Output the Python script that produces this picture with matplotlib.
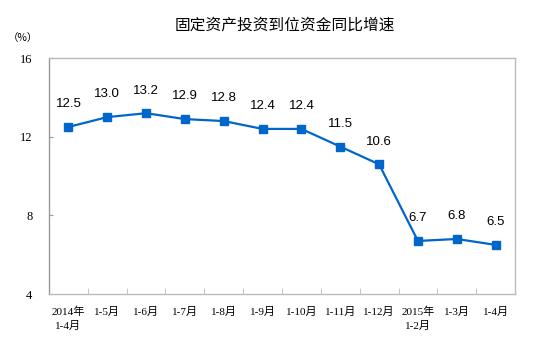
import matplotlib
matplotlib.use('Agg')
import matplotlib.pyplot as plt

# 固定资产投资到位资金同比增速
periods = ['2014年\n1-4月', '1-5月', '1-6月', '1-7月', '1-8月', '1-9月', '1-10月',
           '1-11月', '1-12月', '2015年\n1-2月', '1-3月', '1-4月']
growth = [12.5, 13.0, 13.2, 12.9, 12.8, 12.4, 12.4, 11.5, 10.6, 6.7, 6.8, 6.5]
y_ticks = [4, 8, 12, 16]

line_color = '#0066CC'
tick_font = ['Liberation Serif', 'Noto Sans CJK SC']

fig = plt.figure(figsize=(5.53, 3.59), dpi=100)
ax = fig.add_axes([0.0886, 0.181, 0.8427, 0.657])

x = list(range(len(periods)))
ax.plot(x, growth, color=line_color, linewidth=1.6, marker='s', markersize=6,
        markerfacecolor=line_color, markeredgecolor=line_color)

for xi, v in zip(x, growth):
    ax.annotate(f'{v:.1f}', (xi, v), xytext=(0, 12), textcoords='offset points',
                ha='center', va='bottom', fontsize=9.5, family='Liberation Sans')

ax.set_xlim(-0.5, len(periods) - 0.5)
ax.set_ylim(4, 16)
ax.set_yticks(y_ticks)
ax.set_yticklabels([str(t) for t in y_ticks], family=tick_font, fontsize=9)

# category labels at centers, tick marks at boundaries
ax.set_xticks(x)
ax.set_xticklabels(periods, family=tick_font, fontsize=8, linespacing=1.5)
ax.tick_params(axis='x', length=0, pad=9)
ax.set_xticks([i + 0.5 for i in x[:-1]], minor=True)
ax.tick_params(axis='x', which='minor', direction='in', length=4, color='#BBBBBB')
ax.tick_params(axis='y', direction='in', length=3, color='#999999', pad=12)

for side in ['top', 'right', 'bottom']:
    ax.spines[side].set_color('#BBBBBB')
ax.spines['left'].set_color('#999999')
for s in ax.spines.values():
    s.set_linewidth(1.0)

fig.text(0.515, 0.93, '固定资产投资到位资金同比增速', ha='center', va='center',
         fontsize=11.3, family=['Noto Sans CJK SC'])
fig.text(0.042, 0.895, '（%）', ha='center', va='center', fontsize=7.5,
         family=['Noto Sans CJK SC'])

fig.savefig('out.png', dpi=100)
